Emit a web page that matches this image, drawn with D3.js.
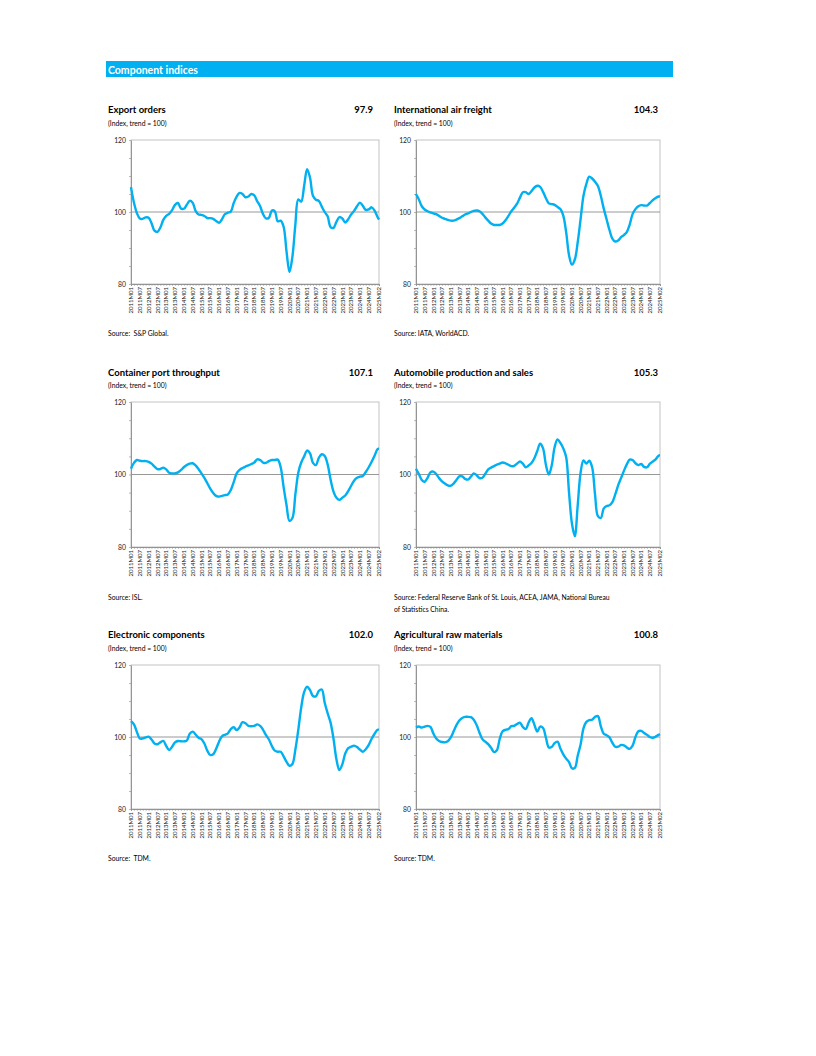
<!DOCTYPE html>
<html>
<head>
<meta charset="utf-8">
<script src="https://cdn.jsdelivr.net/npm/d3@7"></script>
<style>
  body { margin: 0; background: #fff; }
  text { font-family: Lato, "Open Sans", sans-serif; white-space: pre; }
</style>
</head>
<body>
<script>
// monthly categories 2011M01 .. 2025M02
const months = [];
for (let yr = 2011; yr <= 2025; yr++) {
  for (let m = 1; m <= 12; m++) {
    if (yr === 2025 && m > 2) break;
    months.push(yr + 'M' + String(m).padStart(2, '0'));
  }
}
// values are read every second month, plus the last month
const sampleMonths = months.filter((d, i) => i % 2 === 0 || i === months.length - 1);

const tickLabels = [
  '2011M01', '2011M07', '2012M01', '2012M07', '2013M01', '2013M07', '2014M01', '2014M07',
  '2015M01', '2015M07', '2016M01', '2016M07', '2017M01', '2017M07', '2018M01', '2018M07',
  '2019M01', '2019M07', '2020M01', '2020M07', '2021M01', '2021M07', '2022M01', '2022M07',
  '2023M01', '2023M07', '2024M01', '2024M07', '2025M02'
];
const yLabels = [80, 100, 120];

const exportOrders = [
  106.9, 102.6, 99.7, 98.2, 98.1, 98.5, 98.4, 96.9, 94.8, 94.5,
  95.7, 97.8, 98.9, 99.5, 100.5, 102.0, 102.5, 101.0, 100.9, 102.0,
  103.1, 102.6, 100.3, 99.3, 99.2, 98.9, 98.3, 98.3, 98.1, 97.5,
  97.0, 98.0, 99.4, 99.8, 100.1, 102.5, 104.3, 105.3, 105.0, 104.1,
  104.3, 105.0, 104.6, 103.0, 101.6, 99.4, 98.2, 98.4, 100.4, 100.2,
  97.4, 97.6, 95.9, 89.0, 83.3, 87.6, 96.5, 103.5, 102.9, 107.3,
  111.9, 109.5, 104.5, 103.4, 103.1, 101.5, 100.0, 98.8, 95.8, 95.6,
  97.3, 98.6, 98.2, 97.1, 98.0, 99.3, 100.3, 101.6, 102.6, 101.7,
  100.6, 100.7, 101.3, 100.4, 98.6, 97.9
];
const airFreight = [
  105.0, 103.5, 101.6, 100.7, 100.2, 99.9, 99.6, 99.4, 98.9, 98.4,
  98.1, 97.8, 97.6, 97.6, 97.9, 98.3, 98.8, 99.3, 99.6, 100.0,
  100.3, 100.4, 100.2, 99.5, 98.5, 97.6, 96.8, 96.4, 96.4, 96.4,
  96.8, 97.7, 98.9, 100.2, 101.2, 102.3, 104.0, 105.5, 105.5, 105.0,
  105.8, 106.8, 107.3, 107.0, 105.6, 103.8, 102.4, 102.2, 102.0, 101.4,
  100.8, 99.0, 94.4, 88.0, 85.4, 86.8, 91.6, 98.0, 104.5, 107.8,
  109.8, 109.3, 108.4, 107.2, 104.5, 101.0, 98.0, 95.0, 92.6, 91.8,
  92.1, 93.0, 93.6, 94.4, 96.5, 99.4, 100.8, 101.6, 101.9, 101.8,
  101.8, 102.5, 103.3, 103.9, 104.3, 104.3
];
const containerPort = [
  101.6, 103.2, 104.0, 103.8, 103.7, 103.7, 103.5, 103.0, 102.2, 101.5,
  101.5, 101.9, 101.4, 100.5, 100.3, 100.3, 100.6, 101.2, 102.0, 102.6,
  103.0, 103.1, 102.5, 101.5, 100.3, 99.1, 97.6, 96.1, 94.9, 94.1,
  93.9, 94.1, 94.3, 94.5, 95.7, 97.9, 100.3, 101.3, 101.8, 102.2,
  102.5, 102.9, 103.3, 104.2, 104.0, 103.3, 103.2, 103.7, 104.0, 104.0,
  104.1, 102.0, 96.5, 91.5, 87.2, 88.0, 94.5, 100.5, 103.3, 105.0,
  106.6, 105.8, 103.2, 102.6, 104.6, 105.6, 105.1, 102.8, 98.6, 95.3,
  93.6, 93.0, 93.6, 94.2, 95.4, 96.9, 98.3, 99.1, 99.4, 99.6,
  100.7, 102.0, 103.5, 105.2, 107.0, 107.1
];
const autoProduction = [
  101.6, 100.1, 98.5, 98.0, 99.1, 100.6, 100.8, 100.1, 99.0, 98.1,
  97.5, 97.0, 96.9, 97.5, 98.5, 99.5, 99.5, 98.8, 98.6, 99.4,
  100.3, 99.8, 99.0, 99.1, 100.2, 101.4, 101.9, 102.3, 102.7, 103.0,
  103.3, 103.1, 102.7, 102.3, 102.4, 103.0, 103.6, 103.0, 102.0, 102.5,
  103.2, 104.5, 106.5, 108.5, 107.2, 102.6, 100.0, 102.5, 107.5, 109.7,
  108.7, 107.2, 104.8, 95.0, 86.5, 83.0, 91.5, 100.5, 103.9, 103.0,
  103.8, 102.0, 94.5, 88.5, 88.0, 90.6, 91.3, 91.5, 92.4, 94.5,
  97.0, 99.0, 101.0, 102.8, 104.1, 104.0, 103.1, 102.6, 102.9, 102.1,
  102.0, 103.0, 103.6, 104.2, 105.2, 105.3
];
const electronics = [
  104.4, 103.5, 101.4, 99.6, 99.6, 99.9, 100.1, 99.3, 98.2, 98.0,
  98.5, 98.9, 97.5, 96.4, 97.3, 98.5, 98.9, 98.8, 98.8, 99.0,
  100.9, 101.5, 100.7, 99.8, 99.4, 98.2, 96.2, 95.0, 95.2, 96.7,
  98.7, 100.2, 100.6, 101.0, 102.2, 102.7, 101.9, 102.7, 104.1, 103.8,
  103.1, 103.0, 103.1, 103.5, 103.1, 102.0, 100.5, 99.3, 97.5, 96.2,
  95.9, 95.9, 94.6, 93.1, 92.0, 92.5, 96.5, 102.0, 108.2, 112.5,
  114.0, 113.0, 111.4, 111.3, 112.8, 113.2, 109.5, 106.6, 104.0, 99.5,
  93.8, 90.8, 92.4, 95.4, 96.9, 97.3, 97.6, 97.2, 96.5, 95.9,
  96.6, 97.8, 99.5, 100.9, 102.0, 102.0
];
const agriRaw = [
  102.6, 102.9, 102.6, 102.9, 103.1, 102.8, 101.0, 99.6, 98.9, 98.6,
  98.5, 98.8, 99.8, 101.5, 103.3, 104.6, 105.3, 105.6, 105.6, 105.5,
  104.8, 103.3, 101.2, 99.4, 98.7, 98.0, 97.0, 95.8, 96.3, 99.5,
  101.6, 102.0, 102.2, 103.0, 103.1, 103.6, 104.0, 102.8, 102.2, 104.0,
  105.2, 103.4, 101.5, 102.9, 102.5, 99.8, 97.1, 97.2, 98.3, 98.7,
  96.8, 95.2, 94.0, 93.0, 91.3, 91.4, 94.8, 97.9, 102.4, 104.2,
  104.7, 104.8, 105.6, 105.8, 103.0, 100.9, 100.5, 99.9, 98.4, 97.3,
  97.3, 97.8, 97.7, 97.1, 96.7, 97.6, 100.0, 101.6, 101.7, 101.1,
  100.6, 100.0, 99.8, 100.1, 100.6, 100.8
];

const panels = [
  {title: 'Export orders', latest: '97.9', values: exportOrders, source: ['Source:  S&P Global.']},
  {title: 'International air freight', latest: '104.3', values: airFreight, source: ['Source: IATA, WorldACD.']},
  {title: 'Container port throughput', latest: '107.1', values: containerPort, source: ['Source: ISL.']},
  {title: 'Automobile production and sales', latest: '105.3', values: autoProduction,
   source: ['Source: Federal Reserve Bank of St. Louis, ACEA, JAMA, National Bureau', 'of Statistics China.']},
  {title: 'Electronic components', latest: '102.0', values: electronics, source: ['Source:  TDM.']},
  {title: 'Agricultural raw materials', latest: '100.8', values: agriRaw, source: ['Source: TDM.']}
];

const lineColor = '#00b0f0';
const cols = [
  {textX: 108, valueX: 373, left: 131, right: 379},
  {textX: 394, valueX: 658, left: 416, right: 660}
];
const rows = [
  {title: 113, sub: 125.5, top: 140, bottom: 284, source: 335.5},
  {title: 375.5, sub: 387.5, top: 402, bottom: 547, source: 599.5},
  {title: 637.5, sub: 650.5, top: 665, bottom: 809, source: 861}
];

const svg = d3.select('body').append('svg')
    .attr('width', 816)
    .attr('height', 1056);

// section header
svg.append('rect')
    .attr('x', 106).attr('y', 61)
    .attr('width', 567).attr('height', 16)
    .attr('fill', '#00b0f0');
svg.append('text')
    .attr('x', 108).attr('y', 73.5)
    .attr('fill', '#fff')
    .attr('font-size', 10.5)
    .attr('font-weight', 'bold')
    .text('Component indices');

panels.forEach((p, i) => {
  const c = cols[i % 2];
  const r = rows[Math.floor(i / 2)];
  const g = svg.append('g');

  g.append('text')
      .attr('x', c.textX).attr('y', r.title)
      .attr('font-size', 9.5).attr('font-weight', 'bold')
      .text(p.title);
  g.append('text')
      .attr('x', c.valueX).attr('y', r.title)
      .attr('text-anchor', 'end')
      .attr('font-size', 9.5).attr('font-weight', 'bold')
      .text(p.latest);
  g.append('text')
      .attr('x', c.textX).attr('y', r.sub)
      .attr('font-size', 6.8)
      .text('(Index, trend = 100)');

  p.source.forEach((s, k) => {
    g.append('text')
        .attr('x', c.textX).attr('y', r.source + k * 12)
        .attr('font-size', 6.8)
        .text(s);
  });

  const x = d3.scalePoint()
      .domain(months)
      .range([c.left, c.right]);
  const y = d3.scaleLinear()
      .domain([80, 120])
      .range([r.bottom, r.top]);

  // plot frame
  g.append('rect')
      .attr('x', c.left).attr('y', r.top)
      .attr('width', c.right - c.left).attr('height', r.bottom - r.top)
      .attr('fill', 'none')
      .attr('stroke', '#b4b4b4')
      .attr('stroke-width', 0.8);

  // trend line at 100
  g.append('line')
      .attr('x1', c.left).attr('x2', c.right)
      .attr('y1', y(100)).attr('y2', y(100))
      .attr('stroke', '#8c8c8c')
      .attr('stroke-width', 0.9);

  // y axis
  const yAxis = g.append('g')
      .attr('transform', `translate(${c.left},0)`)
      .call(d3.axisLeft(y).tickValues(yLabels).tickSize(0).tickPadding(5));
  yAxis.select('.domain').attr('stroke', '#8c8c8c').attr('stroke-width', 0.9);
  yAxis.selectAll('text').attr('font-size', 6.8).attr('fill', '#222')
      .style('font-family', 'Lato, sans-serif');

  const yMinor = g.append('g')
      .attr('transform', `translate(${c.left},0)`)
      .call(d3.axisLeft(y).tickValues(d3.range(80, 121, 5)).tickSize(2).tickFormat(''));
  yMinor.select('.domain').remove();
  yMinor.selectAll('line').attr('stroke', '#8c8c8c').attr('stroke-width', 0.6);

  // x axis
  const xAxis = g.append('g')
      .attr('transform', `translate(0,${r.bottom})`)
      .call(d3.axisBottom(x).tickValues(sampleMonths).tickSize(2).tickFormat(''));
  xAxis.select('.domain').attr('stroke', '#8c8c8c').attr('stroke-width', 0.9);
  xAxis.selectAll('line').attr('stroke', '#8c8c8c').attr('stroke-width', 0.5);

  g.append('g')
    .selectAll('text')
    .data(tickLabels)
    .join('text')
      .attr('transform', d => `translate(${x(d) + 2.2},${r.bottom + 3}) rotate(-90)`)
      .attr('text-anchor', 'end')
      .attr('font-size', 6)
      .attr('fill', '#1a1a1a')
      .text(d => d);

  const line = d3.line()
      .x(d => x(d[0]))
      .y(d => y(d[1]))
      .curve(d3.curveCatmullRom.alpha(0.5));

  g.append('path')
      .attr('d', line(d3.zip(sampleMonths, p.values)))
      .attr('fill', 'none')
      .attr('stroke', lineColor)
      .attr('stroke-width', 2.4)
      .attr('stroke-linejoin', 'round');
});
</script>
</body>
</html>
